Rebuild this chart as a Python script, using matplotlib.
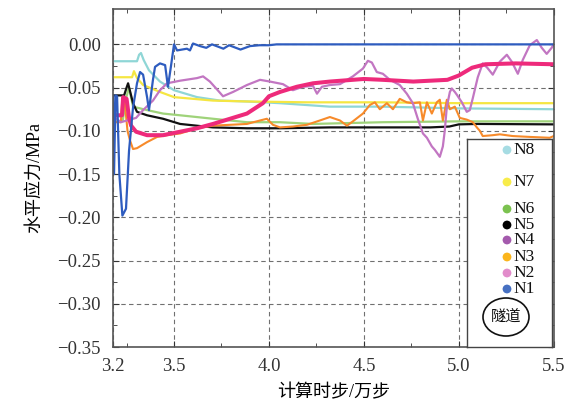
import numpy as np
import matplotlib
matplotlib.use('Agg')
import matplotlib.pyplot as plt
from matplotlib.patches import Ellipse
from matplotlib.ticker import FixedLocator, FuncFormatter

SERIF = ['Liberation Serif', 'Noto Sans CJK SC']
plt.rcParams['font.family'] = SERIF

# ---- data ----
n1_x = [3.179, 3.184, 3.192, 3.200, 3.212, 3.228, 3.247, 3.263, 3.284, 3.305, 3.321, 3.337,
        3.358, 3.368, 3.389, 3.400, 3.426, 3.453, 3.468, 3.484, 3.500, 3.516, 3.568, 3.584,
        3.600, 3.637, 3.670, 3.700, 3.760, 3.790, 3.850, 3.900, 3.950, 4.000, 4.040, 5.500]
n1_y = [-0.059, -0.150, -0.059, -0.060, -0.150, -0.198, -0.190, -0.123, -0.073, -0.045, -0.032, -0.035,
        -0.061, -0.076, -0.041, -0.026, -0.022, -0.024, -0.049, -0.025, 0.000, -0.007, -0.005, -0.007,
        0.001, -0.002, -0.004, 0.000, -0.005, -0.001, -0.006, -0.002, -0.001, -0.001, 0.000, 0.000]

n8_x = [3.179, 3.305, 3.316, 3.326, 3.340, 3.368, 3.426, 3.500, 3.621, 3.742, 3.884, 4.058,
        4.321, 4.600, 5.000, 5.500]
n8_y = [-0.0195, -0.0195, -0.012, -0.010, -0.018, -0.030, -0.043, -0.053, -0.061, -0.065, -0.066, -0.068,
        -0.072, -0.072, -0.074, -0.075]

n7_x = [3.179, 3.279, 3.289, 3.305, 3.337, 3.426, 3.500, 3.705, 3.884, 4.200, 4.600, 5.000, 5.500]
n7_y = [-0.038, -0.038, -0.031, -0.039, -0.047, -0.055, -0.061, -0.065, -0.066, -0.067, -0.067, -0.068, -0.068]

n6_x = [3.179, 3.230, 3.250, 3.263, 3.284, 3.358, 3.442, 3.532, 3.705, 3.884, 4.058, 4.232,
        4.600, 5.000, 5.500]
n6_y = [-0.090, -0.088, -0.060, -0.050, -0.072, -0.076, -0.080, -0.082, -0.086, -0.090, -0.090, -0.092,
        -0.090, -0.089, -0.089]

n5_x = [3.179, 3.237, 3.250, 3.258, 3.284, 3.305, 3.358, 3.442, 3.532, 3.705, 3.884, 4.058,
        4.321, 4.600, 4.850, 4.950, 5.000, 5.100, 5.500]
n5_y = [-0.059, -0.059, -0.050, -0.045, -0.068, -0.078, -0.082, -0.086, -0.092, -0.096, -0.097, -0.097,
        -0.096, -0.096, -0.096, -0.095, -0.0925, -0.092, -0.0925]

n2_x = [3.179, 3.226, 3.232, 3.250, 3.263, 3.274, 3.300, 3.358, 3.442, 3.532, 3.621, 3.705,
        3.795, 3.884, 3.968, 4.000, 4.058, 4.147, 4.232, 4.321, 4.500, 4.600, 4.760, 4.940,
        5.000, 5.070, 5.140, 5.300, 5.500]
n2_y = [-0.082, -0.082, -0.061, -0.063, -0.085, -0.094, -0.101, -0.105, -0.105, -0.101, -0.097, -0.092,
        -0.086, -0.080, -0.068, -0.060, -0.055, -0.049, -0.045, -0.043, -0.040, -0.041, -0.043, -0.041,
        -0.036, -0.027, -0.023, -0.022, -0.023]

n4_x = [3.179, 3.190, 3.220, 3.300, 3.337, 3.389, 3.426, 3.463, 3.532, 3.621, 3.653, 3.689,
        3.726, 3.758, 3.811, 3.884, 3.953, 4.005, 4.074, 4.126, 4.179, 4.232, 4.253, 4.279,
        4.321, 4.374, 4.442, 4.495, 4.521, 4.542, 4.568, 4.600, 4.637, 4.689, 4.726, 4.758,
        4.784, 4.811, 4.832, 4.858, 4.874, 4.900, 4.916, 4.926, 4.937, 4.953, 4.963, 4.979,
        4.989, 5.016, 5.042, 5.058, 5.074, 5.100, 5.126, 5.150, 5.179, 5.216, 5.253, 5.279,
        5.311, 5.337, 5.374, 5.411, 5.437, 5.463, 5.489, 5.500]
n4_y = [-0.115, -0.085, -0.090, -0.085, -0.076, -0.065, -0.053, -0.045, -0.042, -0.039, -0.037, -0.043,
        -0.052, -0.060, -0.055, -0.047, -0.041, -0.043, -0.046, -0.053, -0.049, -0.048, -0.057, -0.049,
        -0.047, -0.046, -0.037, -0.028, -0.019, -0.021, -0.032, -0.034, -0.041, -0.047, -0.057, -0.068,
        -0.086, -0.103, -0.108, -0.118, -0.122, -0.130, -0.118, -0.100, -0.072, -0.055, -0.051, -0.055,
        -0.058, -0.067, -0.078, -0.076, -0.062, -0.038, -0.022, -0.027, -0.035, -0.020, -0.012, -0.020,
        -0.034, -0.018, -0.001, 0.005, -0.004, -0.011, -0.004, 0.000]

n3_x = [3.179, 3.220, 3.228, 3.240, 3.255, 3.268, 3.284, 3.305, 3.358, 3.411, 3.463, 3.532,
        3.621, 3.705, 3.795, 3.884, 3.953, 3.989, 4.021, 4.058, 4.126, 4.200, 4.268, 4.321,
        4.374, 4.411, 4.442, 4.495, 4.532, 4.558, 4.584, 4.621, 4.653, 4.689, 4.726, 4.758,
        4.795, 4.811, 4.832, 4.858, 4.884, 4.900, 4.916, 4.937, 4.953, 4.979, 5.005, 5.042,
        5.074, 5.095, 5.111, 5.126, 5.179, 5.216, 5.284, 5.374, 5.479, 5.500]
n3_y = [-0.090, -0.090, -0.062, -0.066, -0.100, -0.111, -0.121, -0.120, -0.113, -0.107, -0.105, -0.103,
        -0.097, -0.094, -0.093, -0.092, -0.088, -0.086, -0.093, -0.096, -0.095, -0.093, -0.088, -0.084,
        -0.088, -0.094, -0.089, -0.080, -0.070, -0.067, -0.075, -0.068, -0.075, -0.063, -0.067, -0.068,
        -0.067, -0.088, -0.067, -0.080, -0.067, -0.064, -0.088, -0.064, -0.075, -0.072, -0.085, -0.087,
        -0.090, -0.096, -0.100, -0.106, -0.105, -0.104, -0.106, -0.107, -0.108, -0.106]

legend_names = ['N8', 'N7', 'N6', 'N5', 'N4', 'N3', 'N2', 'N1']
legend_colors = ['#a6dce3', '#f8ec4a', '#7bc24f', '#000000', '#a45aad', '#fbb51c', '#e28ccb', '#4670c2']

# ---- plot ----
fig = plt.figure(figsize=(5.75, 4.05), dpi=100)
ax = fig.add_axes([0.197, 0.143, 0.766, 0.835])

ax.plot(n8_x, n8_y, color='#8fd6d6', lw=1.6)
ax.plot(n7_x, n7_y, color='#f5e642', lw=1.6)
ax.plot(n6_x, n6_y, color='#9fd37a', lw=1.6)
ax.plot(n5_x, n5_y, color='#111111', lw=1.6)
ax.plot(n3_x, n3_y, color='#f78a2a', lw=1.5)
ax.plot(n4_x, n4_y, color='#c276c2', lw=1.6)
ax.plot(n2_x, n2_y, color='#ee2a7b', lw=2.9)
ax.plot(n1_x, n1_y, color='#2e5cbf', lw=1.6)

ax.set_xlim(3.18, 5.5)
ax.set_ylim(-0.35, 0.041)
ax.set_xticks([3.18, 3.5, 4.0, 4.5, 5.0, 5.5])
ax.set_xticklabels(['3.2', '3.5', '4.0', '4.5', '5.0', '5.5'])
ax.xaxis.set_minor_locator(FixedLocator([3.25, 3.75, 4.25, 4.75, 5.25]))
yt = [0.0, -0.05, -0.10, -0.15, -0.20, -0.25, -0.30, -0.35]
ax.set_yticks(yt)
ax.yaxis.set_major_formatter(FuncFormatter(
    lambda v, p: '0.00' if abs(v) < 1e-9 else f'{v:.2f}'.replace('-', '\u2212')))
ax.yaxis.set_minor_locator(FixedLocator([-0.025 - 0.05 * i for i in range(7)]))
ax.tick_params(which='both', direction='in', top=True, right=True, labelsize=13.5, colors='#333333')
ax.tick_params(which='major', length=4)
ax.tick_params(which='minor', length=3)
ax.tick_params(axis='x', pad=8)
ax.tick_params(axis='y', pad=9)
ax.grid(True, which='major', color='#707070', linestyle=(0, (4, 3)), lw=0.8)
for s in ax.spines.values():
    s.set_color('#555555')
    s.set_linewidth(1.2)

ax.set_xlabel('计算时步/万步', fontsize=13, labelpad=6)
ax.set_ylabel('水平应力/MPa', fontsize=13, labelpad=10)

# schematic legend box
lax = fig.add_axes([467 / 575, 1 - 347 / 405, 85 / 575, 208 / 405])
lax.set_xlim(0, 85)
lax.set_ylim(208, 0)
lax.set_xticks([])
lax.set_yticks([])
for s in lax.spines.values():
    s.set_color('#444444')
    s.set_linewidth(1.0)
dot_y = [11, 43, 70, 86, 101, 118, 134, 150]
lax.scatter([40] * len(dot_y), dot_y, s=40, c=legend_colors, edgecolors='none', zorder=3)
for name, yy in zip(legend_names, dot_y):
    lax.text(46, yy, name, fontsize=12.5, va='center', ha='left', color='#111111')
lax.add_patch(Ellipse((39, 178), 46, 38, fill=False, ec='#111111', lw=1.2))
lax.text(39, 178, '隧道', fontsize=11, ha='center', va='center', color='#111111')

plt.savefig('out.png', dpi=100)
